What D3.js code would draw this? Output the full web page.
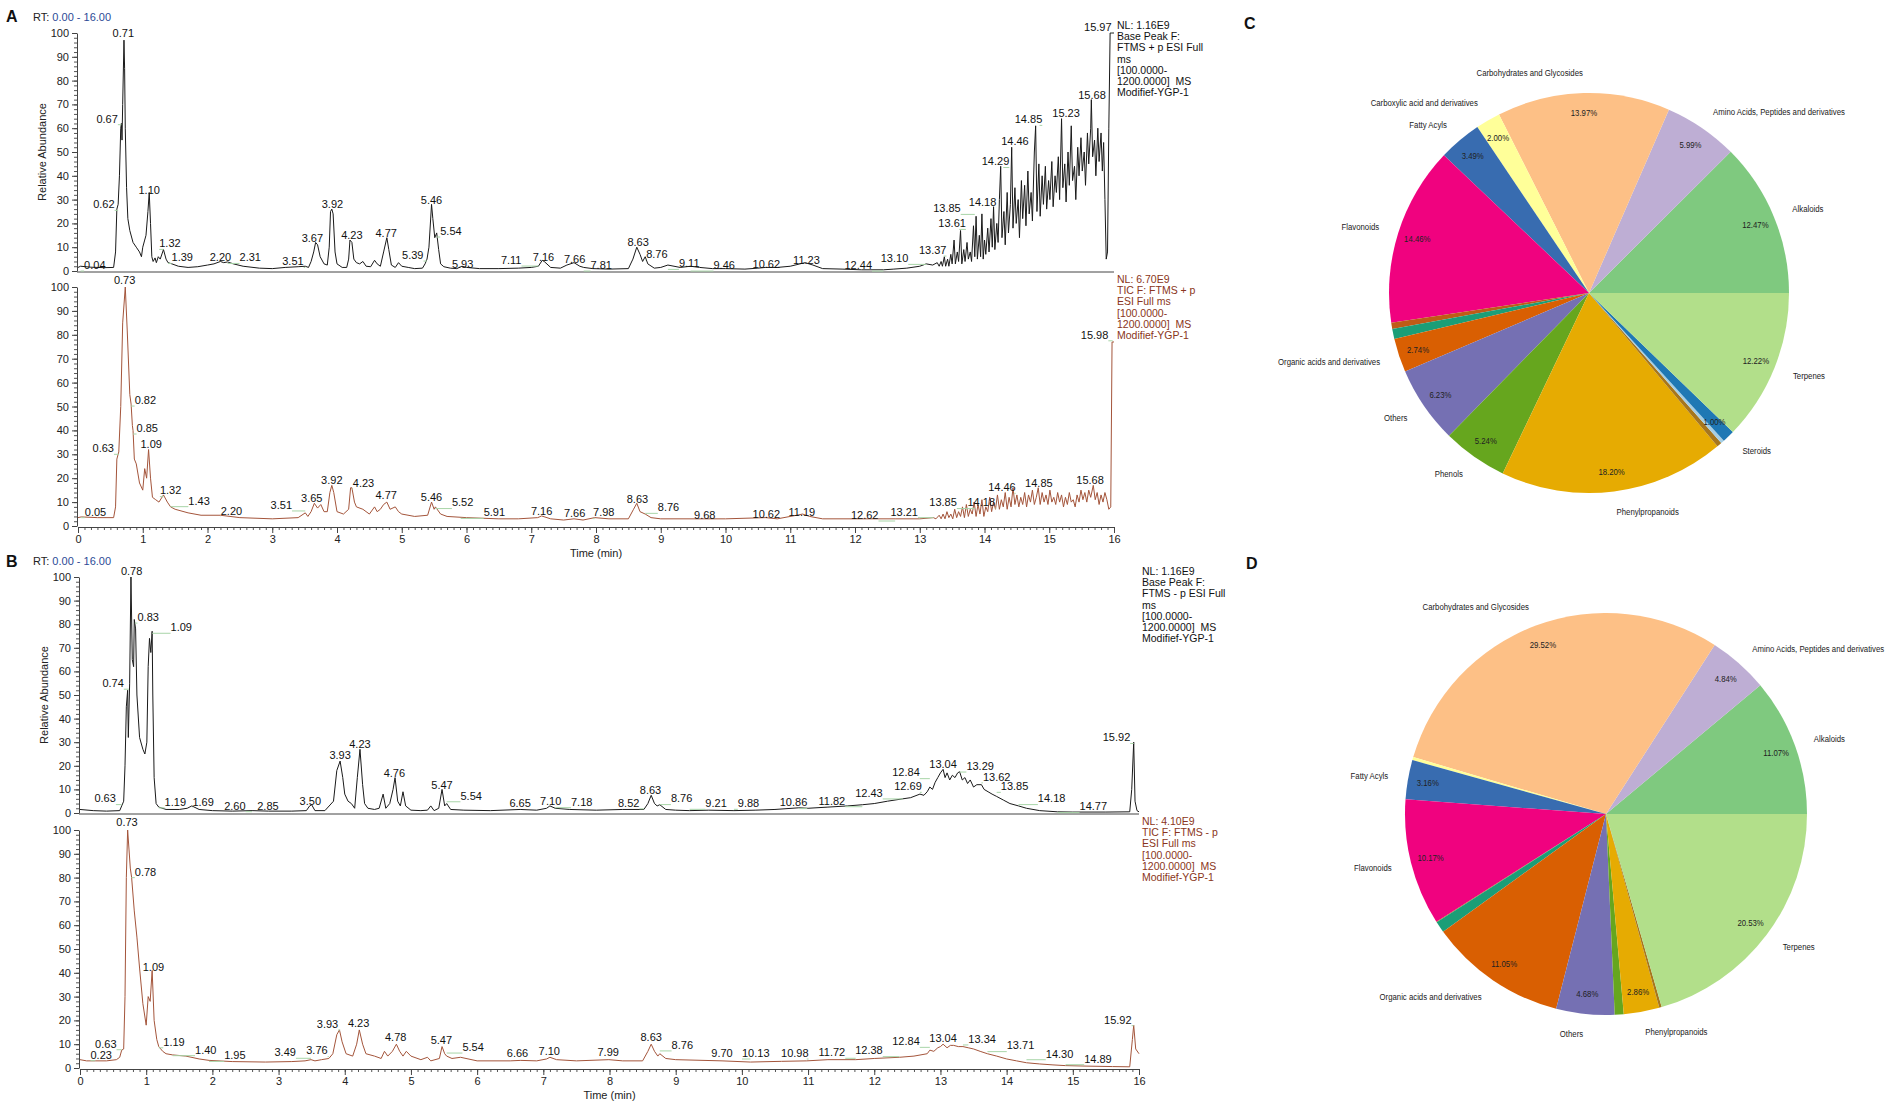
<!DOCTYPE html>
<html>
<head>
<meta charset="utf-8">
<script src="https://cdn.jsdelivr.net/npm/d3@7"></script>
<style>
  body { margin: 0; background: #fff; }
  text { font-family: "Liberation Sans", Arial, sans-serif; }
</style>
</head>
<body>
<svg id="fig" width="1902" height="1105"></svg>
<script>
// ---- data ----
const timeTicks = [0, 1, 2, 3, 4, 5, 6, 7, 8, 9, 10, 11, 12, 13, 14, 15, 16];
const abundanceTicks = [0, 10, 20, 30, 40, 50, 60, 70, 80, 90, 100];

// A, base peak (ESI+), [time, relative abundance]
const aTopTrace = [[0,1.5],[0.04,2],[0.2,1.6],[0.4,1.4],[0.55,1.5],[0.58,8],[0.6,26],[0.62,28],[0.64,40],[0.66,60],[0.67,62],[0.68,55],[0.69,70],[0.71,97],[0.72,85],[0.73,60],[0.75,35],[0.77,22],[0.8,17],[0.85,12],[0.9,10],[0.95,8],[0.98,6],[1.0,10],[1.03,13],[1.05,15],[1.08,25],[1.1,33],[1.12,20],[1.14,6],[1.16,4],[1.19,5.5],[1.21,3.5],[1.24,6],[1.27,5],[1.32,9],[1.36,5],[1.39,3.5],[1.45,3],[1.55,2],[1.7,1.5],[1.85,1.8],[2.0,2.5],[2.1,3],[2.2,4],[2.25,3.5],[2.31,3.8],[2.4,3],[2.55,2],[2.8,1.2],[3.0,1],[3.2,1.5],[3.4,1.8],[3.51,2],[3.56,1.5],[3.6,4],[3.64,8],[3.67,12],[3.7,11],[3.74,6],[3.8,3],[3.85,2.5],[3.88,10],[3.9,25],[3.92,26],[3.94,24],[3.97,8],[4.0,3],[4.08,1.5],[4.15,1.5],[4.18,5],[4.2,13],[4.23,12],[4.26,5],[4.3,3.5],[4.35,3],[4.4,4],[4.45,2],[4.52,1.8],[4.58,4.5],[4.62,3],[4.67,2],[4.72,8],[4.77,14],[4.8,9],[4.84,2.5],[4.9,1.5],[4.95,3.5],[5.0,2],[5.1,1.5],[5.2,1],[5.32,1.2],[5.36,3],[5.39,5],[5.42,10],[5.46,28],[5.48,22],[5.51,14],[5.54,16],[5.57,9],[5.6,3],[5.65,1.8],[5.75,1.2],[5.85,1],[5.93,2],[6.0,1.5],[6.2,1],[6.5,1],[6.8,1.2],[7.0,1.5],[7.11,2],[7.17,4.5],[7.2,4],[7.3,1.5],[7.45,1.2],[7.55,2.5],[7.66,3.5],[7.75,2],[7.81,1.5],[7.95,1],[8.2,0.8],[8.5,1],[8.57,5],[8.63,10],[8.68,7],[8.72,4],[8.76,6],[8.8,3],[8.9,1.2],[9.0,1.5],[9.11,2.5],[9.3,1.5],[9.46,2],[9.6,1.5],[9.8,1],[10.0,1],[10.3,0.8],[10.5,1.2],[10.62,1.5],[10.8,1.5],[11.0,2],[11.15,3],[11.23,3.5],[11.35,2.5],[11.5,1],[11.8,0.8],[12.1,0.5],[12.44,0.5],[12.6,0.8],[12.8,1.2],[13.0,2],[13.1,3],[13.2,2.5],[13.27,3.5],
  [13.30,2],[13.33,4],[13.35,2],[13.38,6],[13.40,2],[13.43,5],[13.45,2],[13.48,7],[13.50,3],[13.53,13],[13.55,3],[13.58,8],[13.60,4],[13.63,17],[13.65,3],[13.68,9],[13.70,4],[13.73,12],[13.75,5],[13.78,8],[13.80,4],[13.83,19],[13.85,6],[13.87,23],[13.89,5],[13.92,15],[13.94,6],[13.96,24],[13.98,5],[14.00,13],[14.02,7],[14.05,18],[14.07,8],[14.10,22],[14.12,10],[14.14,27],[14.16,9],[14.19,20],[14.21,12],[14.23,30],[14.25,44],[14.27,14],[14.30,25],[14.32,11],[14.35,33],[14.37,16],[14.40,28],[14.42,52],[14.44,18],[14.47,35],[14.49,20],[14.52,30],[14.54,14],[14.57,38],[14.59,22],[14.62,36],[14.64,19],[14.67,42],[14.69,24],[14.72,33],[14.74,21],[14.77,50],[14.79,61],[14.81,25],[14.84,45],[14.86,23],[14.89,40],[14.91,28],[14.94,44],[14.96,26],[14.99,38],[15.01,30],[15.04,46],[15.06,27],[15.09,40],[15.11,33],[15.14,48],[15.16,30],[15.19,64],[15.21,35],[15.24,45],[15.26,29],[15.29,50],[15.31,36],[15.34,61],[15.36,38],[15.39,44],[15.41,30],[15.44,52],[15.46,40],[15.49,56],[15.51,42],[15.54,50],[15.56,36],[15.59,58],[15.61,45],[15.64,60],[15.65,72],[15.67,48],[15.70,55],[15.72,40],[15.75,60],[15.77,46],[15.80,58],[15.82,42],[15.84,54],[15.86,30],[15.88,5],[15.90,8],[15.92,60],[15.94,100],[15.97,100],[16.0,100]];
// peak labels: [retention time, label position (min), label height]
const aTopLabels = [[0.04,0.26,2.5],[0.62,0.40,28],[0.67,0.45,64],[0.71,0.70,100],[1.10,1.10,34],[1.32,1.42,11.6],[1.39,1.61,5.7],[2.20,2.20,5.7],[2.31,2.66,5.7],[3.51,3.32,4],[3.67,3.62,13.7],[3.92,3.93,28],[4.23,4.23,15],[4.77,4.76,15.8],[5.39,5.17,6.7],[5.46,5.46,29.6],[5.54,5.76,16.8],[5.93,5.94,3],[7.11,6.69,4.6],[7.16,7.19,6],[7.66,7.67,4.9],[7.81,8.08,2.5],[8.63,8.65,12.3],[8.76,8.94,7.2],[9.11,9.44,3.2],[9.46,9.98,2.5],[10.62,10.63,2.8],[11.23,11.25,4.6],[12.44,12.05,2.5],[13.10,12.61,5.3],[13.37,13.2,8.8],[13.61,13.5,20],[13.85,13.42,26.3],[14.18,13.97,29.1],[14.29,14.17,46],[14.46,14.47,54.6],[14.85,14.68,63.7],[15.23,15.26,66.5],[15.68,15.66,74],[15.97,15.75,102.6]];
const aTopNote = ["NL: 1.16E9", "Base Peak F:", "FTMS + p ESI Full", "ms", "[100.0000-", "1200.0000]  MS", "Modifief-YGP-1"];

// A, TIC (ESI+)
const aBotTrace = [[0,3.5],[0.05,3.8],[0.3,3.5],[0.55,3.5],[0.58,8],[0.6,28],[0.63,31],[0.66,50],[0.69,85],[0.73,100],[0.76,82],[0.8,55],[0.82,51],[0.84,42],[0.85,40],[0.87,28],[0.9,26],[0.95,18],[1.0,15],[1.03,24],[1.06,20],[1.09,32],[1.12,20],[1.15,12],[1.2,11],[1.25,10],[1.32,13],[1.38,10],[1.43,8],[1.5,7],[1.7,5.5],[1.9,4.5],[2.2,4.5],[2.5,3.5],[3.0,3],[3.4,3.5],[3.51,5.5],[3.55,4],[3.6,6],[3.65,9.5],[3.7,7.5],[3.75,9],[3.8,6],[3.85,6],[3.89,14],[3.92,17],[3.95,14],[4.0,6],[4.1,5],[4.18,7],[4.21,16],[4.23,16],[4.27,10],[4.3,8],[4.4,7],[4.5,5],[4.58,8],[4.62,6],[4.67,7],[4.72,9],[4.77,10],[4.82,7],[4.9,8],[4.95,6],[5.0,5],[5.2,4],[5.4,4.5],[5.46,10],[5.5,7],[5.52,8],[5.6,5],[5.7,4],[6.0,3.5],[6.5,3],[6.8,3],[7.1,3.5],[7.16,4.2],[7.3,3],[7.5,2.5],[7.66,3],[7.8,2.5],[7.98,3.5],[8.2,3],[8.5,3],[8.58,7],[8.63,9.5],[8.68,6],[8.76,5],[8.85,3.5],[9.0,3],[9.68,3],[10.0,3],[10.62,3.5],[10.8,3],[11.1,4.5],[11.19,5],[11.3,4],[11.5,3],[12.0,3],[12.62,3],[13.0,3],[13.21,3.5],
  [13.25,3],[13.3,4.5],[13.33,3],[13.36,5],[13.39,3],[13.42,6],[13.45,3.5],[13.48,5],[13.51,3],[13.54,7],[13.57,3.5],[13.6,6],[13.63,4],[13.66,8],[13.69,3.5],[13.72,9],[13.75,4],[13.78,7],[13.81,5],[13.84,10],[13.87,4],[13.9,9],[13.93,5],[13.96,11],[13.99,4],[14.02,8],[14.05,6],[14.08,12],[14.11,6],[14.14,10],[14.17,7],[14.2,13],[14.23,7],[14.26,11],[14.29,8],[14.32,14],[14.35,7],[14.38,12],[14.41,8],[14.44,16],[14.47,9],[14.5,13],[14.53,8],[14.56,12],[14.59,9],[14.62,14],[14.65,8],[14.68,13],[14.71,10],[14.74,15],[14.77,9],[14.8,12],[14.83,16],[14.86,9],[14.89,14],[14.92,10],[14.95,13],[14.98,9],[15.01,15],[15.04,10],[15.07,12],[15.1,9],[15.13,14],[15.16,10],[15.19,13],[15.22,8],[15.25,12],[15.28,9],[15.31,14],[15.34,10],[15.37,11],[15.4,8],[15.43,13],[15.46,10],[15.49,15],[15.52,11],[15.55,14],[15.58,10],[15.61,15],[15.64,12],[15.68,17],[15.71,11],[15.74,14],[15.77,9],[15.8,13],[15.83,10],[15.86,14],[15.89,11],[15.92,7],[15.95,8],[15.97,77],[16.0,77]];
const aBotLabels = [[0.05,0.27,6],[0.63,0.39,32.5],[0.73,0.72,103],[0.82,1.04,52.7],[0.85,1.07,41],[1.09,1.13,34.3],[1.32,1.43,14.8],[1.43,1.87,10.6],[2.20,2.37,6.4],[3.51,3.14,8.8],[3.65,3.61,11.6],[3.92,3.92,19],[4.23,4.41,18],[4.77,4.76,12.7],[5.46,5.46,12],[5.52,5.94,9.8],[5.91,6.43,5.7],[7.16,7.16,6.4],[7.66,7.67,5.5],[7.98,8.12,5.6],[8.63,8.64,11.2],[8.76,9.12,7.8],[9.68,9.68,4.6],[10.62,10.63,4.9],[11.19,11.18,6],[12.62,12.15,4.6],[13.21,12.76,6],[13.85,13.36,9.8],[14.18,13.95,10],[14.46,14.27,16.2],[14.85,14.84,18],[15.68,15.63,19],[15.98,15.70,80]];
const aBotNote = ["NL: 6.70E9", "TIC F: FTMS + p", "ESI Full ms", "[100.0000-", "1200.0000]  MS", "Modifief-YGP-1"];

// B, base peak (ESI-)
const bTopTrace = [[0,1.5],[0.2,1],[0.4,0.8],[0.6,1],[0.63,3],[0.66,5],[0.68,20],[0.7,45],[0.72,52],[0.73,32],[0.75,55],[0.77,100],[0.79,65],[0.81,62],[0.82,82],[0.84,78],[0.86,50],[0.9,32],[0.95,27],[0.98,25],[1.01,30],[1.03,62],[1.05,74],[1.07,68],[1.09,77],[1.1,50],[1.12,15],[1.15,4],[1.19,2.5],[1.3,1.5],[1.5,1.5],[1.62,2],[1.69,3],[1.8,1.5],[2.0,1],[2.3,0.8],[2.6,1],[2.85,0.8],[3.2,0.8],[3.42,1],[3.47,3],[3.5,3.5],[3.55,1],[3.7,1],[3.83,5],[3.88,18],[3.93,22],[3.97,15],[4.0,8],[4.05,5],[4.1,4],[4.15,2],[4.19,15],[4.23,27],[4.27,12],[4.3,4],[4.35,2],[4.45,1.5],[4.52,2],[4.58,8],[4.62,2],[4.68,4],[4.73,10],[4.76,15],[4.8,5],[4.84,3],[4.88,9],[4.92,3],[5.0,1.2],[5.15,1],[5.25,1.2],[5.3,3],[5.35,1],[5.42,2],[5.47,10],[5.51,3],[5.54,4],[5.6,1.5],[5.8,1.2],[6.2,1],[6.65,1.5],[6.9,1.2],[7.05,2],[7.1,3],[7.18,2],[7.4,1.5],[7.8,1.2],[8.2,1.5],[8.52,1.5],[8.58,4],[8.63,7.5],[8.68,4],[8.72,3],[8.76,3.5],[8.85,1.5],[9.0,1.2],[9.21,1],[9.5,1.2],[9.88,1],[10.2,1.2],[10.5,1.5],[10.86,2.2],[11.0,2],[11.3,2.5],[11.6,3],[11.82,3.5],[12.0,4],[12.2,5],[12.43,6],[12.55,6.5],[12.69,8],[12.75,7.5],[12.8,9],[12.84,11],[12.88,10],[12.92,13],[12.96,15],[13.0,17],[13.04,18.5],[13.07,15],[13.1,17],[13.14,14],[13.18,16],[13.22,15],[13.26,17],[13.29,17.5],[13.33,14],[13.37,15],[13.41,12.5],[13.45,14],[13.5,11],[13.55,12],[13.62,12],[13.66,10],[13.72,9],[13.78,8],[13.85,7],[13.95,5.5],[14.05,4],[14.18,3],[14.3,2],[14.5,1],[14.77,0.5],[15.0,0.4],[15.5,0.4],[15.86,0.5],[15.89,10],[15.92,30],[15.94,5],[15.97,1],[16.0,0.5]];
const bTopLabels = [[0.78,0.78,102.5],[0.83,1.03,83],[1.09,1.53,78.7],[0.74,0.50,55],[0.63,0.38,6.1],[1.19,1.44,4.7],[1.69,1.86,4.7],[2.60,2.34,3.1],[2.85,2.84,3.1],[3.50,3.48,5.2],[3.93,3.93,24.4],[4.23,4.23,29.3],[4.76,4.75,16.8],[5.47,5.47,11.9],[5.54,5.91,7.3],[6.65,6.65,4],[7.10,7.11,5.2],[7.18,7.58,4.8],[8.52,8.29,4.3],[8.63,8.62,9.6],[8.76,9.09,6.1],[9.21,9.61,4.1],[9.88,10.1,4.1],[10.86,10.78,4.4],[11.82,11.36,5.2],[12.43,11.92,8.5],[12.69,12.51,11.3],[12.84,12.48,17.1],[13.04,13.04,20.6],[13.29,13.6,19.9],[13.62,13.85,15.3],[13.85,14.12,11.3],[14.18,14.68,6.1],[14.77,15.31,2.7],[15.92,15.66,32]];
const bTopNote = ["NL: 1.16E9", "Base Peak F:", "FTMS - p ESI Full", "ms", "[100.0000-", "1200.0000]  MS", "Modifief-YGP-1"];

// B, TIC (ESI-)
const bBotTrace = [[0,3.5],[0.1,3],[0.23,3],[0.4,3],[0.55,3.5],[0.6,4.5],[0.63,7.5],[0.66,8],[0.68,30],[0.7,80],[0.72,100],[0.74,92],[0.76,84],[0.78,80],[0.82,66],[0.86,55],[0.9,42],[0.95,27],[1.0,18],[1.03,30],[1.06,28],[1.09,41],[1.12,20],[1.16,12],[1.19,9],[1.25,7],[1.3,6],[1.4,5.5],[1.6,5],[1.8,3.8],[1.95,3.2],[2.3,2.7],[2.8,2.5],[3.2,2.7],[3.4,3],[3.49,3.5],[3.55,3],[3.65,3.5],[3.76,4],[3.82,6],[3.88,14],[3.92,16],[3.96,11],[4.02,6],[4.12,5],[4.18,10],[4.22,16],[4.27,10],[4.32,6],[4.45,5],[4.55,4],[4.6,7],[4.65,5],[4.72,7],[4.78,10],[4.83,7],[4.88,5],[4.93,7],[5.0,5],[5.15,3.5],[5.25,4.5],[5.3,3],[5.43,4],[5.47,9],[5.51,6],[5.54,5],[5.62,4],[5.75,4.5],[6.0,3],[6.5,3],[6.66,3.2],[6.9,3],[7.05,3.8],[7.1,4.5],[7.2,3.5],[7.5,3],[7.99,3.5],[8.2,3],[8.5,3],[8.58,7],[8.63,10],[8.68,7],[8.73,5],[8.76,6],[8.85,4],[9.0,3.5],[9.7,3],[10.13,2.5],[10.6,2.8],[10.98,3],[11.3,3.5],[11.72,3.5],[12.0,4],[12.38,4.5],[12.6,5],[12.8,6],[12.84,7.5],[12.9,7],[12.96,8.5],[13.0,9],[13.04,10],[13.1,8.5],[13.15,9.5],[13.2,9.5],[13.27,9],[13.34,9],[13.42,8.5],[13.5,8],[13.6,7],[13.71,6],[13.85,5],[14.0,3.8],[14.15,3],[14.3,2.2],[14.5,1.7],[14.7,1.3],[14.89,1],[15.2,0.8],[15.6,0.6],[15.86,0.5],[15.9,12],[15.92,18],[15.95,8],[16.0,6]];
const bBotLabels = [[0.73,0.71,103.5],[0.78,0.99,82.5],[1.09,1.11,42.4],[0.63,0.39,10.2],[0.23,0.32,5.6],[1.19,1.42,11],[1.40,1.90,7.7],[1.95,2.34,5.3],[3.49,3.10,6.6],[3.76,3.58,7.3],[3.93,3.74,18.5],[4.23,4.21,18.9],[4.78,4.77,13.1],[5.47,5.46,11.5],[5.54,5.94,8.8],[6.66,6.61,6.3],[7.10,7.09,6.9],[7.99,7.98,6.6],[8.63,8.63,13.1],[8.76,9.10,9.7],[9.70,9.70,6.3],[10.13,10.21,6.3],[10.98,10.80,6.3],[11.72,11.36,6.6],[12.38,11.92,7.3],[12.84,12.48,11.2],[13.04,13.04,12.6],[13.34,13.63,12.2],[13.71,14.21,9.4],[14.30,14.8,6],[14.89,15.38,3.9],[15.92,15.68,20.3]];
const bBotNote = ["NL: 4.10E9", "TIC F: FTMS - p", "ESI Full ms", "[100.0000-", "1200.0000]  MS", "Modifief-YGP-1"];

// pies: classes in plotting order (counter-clockwise from 3 o'clock)
const pieClasses = ["Alkaloids", "Amino Acids, Peptides and derivatives", "Carbohydrates and Glycosides",
  "Carboxylic acid and derivatives", "Fatty Acyls", "Flavonoids", "minor 1", "minor 2",
  "Organic acids and derivatives", "Others", "Phenols", "Phenylpropanoids", "minor 3", "minor 4",
  "Steroids", "Terpenes"];
const pieCValues = [12.47, 5.99, 13.97, 2.00, 3.49, 14.46, 0.50, 0.81, 2.74, 6.23, 5.24, 18.20, 0.40, 0.28, 1.00, 12.22];
const pieDValues = [11.07, 4.84, 29.52, 0.25, 3.16, 10.17, 0.05, 0.90, 11.05, 4.68, 0.72, 2.86, 0.20, 0, 0, 20.53];
const pieColors = ["#7fc97f", "#beaed4", "#fdc086", "#ffff99", "#386cb0", "#f0027f", "#bf5b17", "#1b9e77",
  "#d95f02", "#7570b3", "#66a61e", "#e6ab02", "#a6761d", "#a6cee3", "#1f78b4", "#b2df8a"];

// ---- drawing ----
const svg = d3.select("#fig");
const black = "#1a1a1a";
const ticColor = "#a4553b";
const ticText = "#8a3520";
const leaderColor = "#a8d5a8";

function chromPanel(p) {
  const x = d3.scaleLinear().domain([0, 16]).range([p.left, p.right]);
  const y = d3.scaleLinear().domain([0, 100]).range([p.base, p.top]);
  const g = svg.append("g");

  // y axis with minor ticks
  g.append("g").attr("transform", `translate(${p.left - 1},0)`)
    .call(d3.axisLeft(y).tickValues(d3.range(0, 101, 2)).tickSize(3).tickFormat(""))
    .call(a => a.select(".domain").remove())
    .selectAll("line").attr("stroke", "#555");
  const ya = g.append("g").attr("transform", `translate(${p.left - 1},0)`)
    .call(d3.axisLeft(y).tickValues(abundanceTicks).tickSize(5).tickSizeOuter(0));
  ya.select(".domain").attr("stroke", "#444");
  ya.selectAll("line").attr("stroke", "#444");
  ya.selectAll("text").attr("font-size", 11).attr("fill", "#222")
    .attr("font-family", "'Liberation Sans', Arial, sans-serif");

  // x axis
  if (p.xLabels) {
    g.append("g").attr("transform", `translate(0,${p.base + 1})`)
      .call(d3.axisBottom(x).tickValues(d3.range(0, 16.01, 0.1)).tickSize(3).tickFormat(""))
      .call(a => a.select(".domain").remove())
      .selectAll("line").attr("stroke", "#555");
    const xa = g.append("g").attr("transform", `translate(0,${p.base + 1})`)
      .call(d3.axisBottom(x).tickValues(timeTicks).tickSize(6).tickSizeOuter(0));
    xa.select(".domain").attr("stroke", "#444");
    xa.selectAll("line").attr("stroke", "#444");
    xa.selectAll("text").attr("font-size", 11).attr("fill", "#222").attr("dy", "0.6em")
      .attr("font-family", "'Liberation Sans', Arial, sans-serif");
    g.append("text").attr("x", x(8)).attr("y", p.base + 31).attr("text-anchor", "middle")
      .attr("font-size", 11).attr("fill", "#222").text("Time (min)");
  } else {
    g.append("line").attr("x1", p.left - 1).attr("x2", p.right).attr("y1", p.base + 1).attr("y2", p.base + 1)
      .attr("stroke", "#444");
  }

  if (p.yTitle) {
    g.append("text")
      .attr("transform", `translate(${p.left - 32},${(p.top + p.base) / 2}) rotate(-90)`)
      .attr("text-anchor", "middle").attr("font-size", 11).attr("fill", "#222")
      .text("Relative Abundance");
  }

  // trace
  g.append("path").datum(p.trace)
    .attr("d", d3.line().x(d => x(d[0])).y(d => y(d[1])))
    .attr("fill", "none").attr("stroke", p.color).attr("stroke-width", 1)
    .attr("stroke-linejoin", "round");

  // peak labels, leader lines underneath
  const leaders = g.append("g");
  const texts = g.append("g");
  p.labels.forEach(([rt, lt, ly]) => {
    const t = texts.append("text").attr("x", x(lt)).attr("y", y(ly)).attr("dy", "0.35em")
      .attr("text-anchor", "middle").attr("font-size", 11).attr("fill", "#111")
      .text(rt.toFixed(2));
    if (Math.abs(lt - rt) >= 0.08) {
      const w = t.node().getComputedTextLength() / 2;
      const from = lt < rt ? x(lt) + w : x(lt) - w;
      leaders.append("line").attr("x1", from).attr("x2", x(rt))
        .attr("y1", y(ly) + 6).attr("y2", y(ly) + 6)
        .attr("stroke", leaderColor).attr("stroke-width", 1);
    }
  });

  // NL note block
  const note = g.append("text").attr("x", p.right + 3).attr("y", p.noteY)
    .attr("font-size", 10.5).attr("fill", p.noteColor);
  p.note.forEach((s, i) => note.append("tspan").attr("x", p.right + 3).attr("dy", i ? 11.2 : 0)
    .attr("xml:space", "preserve").text(s));
}

chromPanel({ left: 78, right: 1114, top: 33, base: 271, trace: aTopTrace, labels: aTopLabels,
  color: black, xLabels: false, yTitle: true, note: aTopNote, noteY: 29, noteColor: "#111" });
chromPanel({ left: 78, right: 1114, top: 287, base: 526, trace: aBotTrace, labels: aBotLabels,
  color: ticColor, xLabels: true, yTitle: false, note: aBotNote, noteY: 283, noteColor: ticText });
chromPanel({ left: 80, right: 1139, top: 577, base: 813, trace: bTopTrace, labels: bTopLabels,
  color: black, xLabels: false, yTitle: true, note: bTopNote, noteY: 575, noteColor: "#111" });
chromPanel({ left: 80, right: 1139, top: 830, base: 1068, trace: bBotTrace, labels: bBotLabels,
  color: ticColor, xLabels: true, yTitle: false, note: bBotNote, noteY: 825, noteColor: ticText });

// RT headers and panel letters
function header(letter, lx, ly) {
  svg.append("text").attr("x", lx).attr("y", ly)
    .attr("font-family", "'Liberation Serif', 'DejaVu Serif', serif").attr("font-weight", "bold")
    .attr("font-size", 16).attr("fill", "#111").text(letter);
}
function rtText(x0, y0) {
  const t = svg.append("text").attr("x", x0).attr("y", y0).attr("font-size", 11);
  t.append("tspan").attr("fill", "#222").text("RT: ");
  t.append("tspan").attr("fill", "#2c4a96").text("0.00 - 16.00");
}
header("A", 6, 22); rtText(33, 21);
header("B", 6, 567); rtText(33, 565);
header("C", 1244, 29);
header("D", 1246, 569);

// pies
function pieChart(values, cx, cy, r) {
  const data = pieClasses.map((name, i) => ({ name, value: values[i], color: pieColors[i] }));
  const arcs = d3.pie().sort(null).value(d => d.value)
    .startAngle(Math.PI / 2).endAngle(Math.PI / 2 - 2 * Math.PI)(data);
  const g = svg.append("g").attr("transform", `translate(${cx},${cy})`);
  const arc = d3.arc().innerRadius(0).outerRadius(r);
  g.selectAll("path.slice").data(arcs.filter(a => a.data.value > 0)).join("path")
    .attr("class", "slice").attr("d", arc).attr("fill", d => d.data.color);

  const labelArc = d3.arc().innerRadius(r * 1.1).outerRadius(r * 1.1);
  const pctArc = d3.arc().innerRadius(r * 0.9).outerRadius(r * 0.9);
  const shown = arcs.filter(a => a.data.value >= 1);
  shown.forEach(a => {
    const [lx, ly] = labelArc.centroid(a);
    g.append("g").attr("transform", `translate(${lx},${ly}) scale(0.82,1)`)
      .append("text").attr("text-anchor", lx > 0 ? "start" : "end").attr("dy", "0.35em")
      .attr("font-family", "'Noto Sans', 'Open Sans', sans-serif").attr("font-size", 9.5)
      .attr("fill", "#1a1a1a").text(a.data.name);
    const [px, py] = pctArc.centroid(a);
    g.append("g").attr("transform", `translate(${px},${py}) scale(0.82,1)`)
      .append("text").attr("text-anchor", "middle").attr("dy", "0.35em")
      .attr("font-family", "'Noto Sans', 'Open Sans', sans-serif").attr("font-size", 9.5)
      .attr("fill", "#222").text(a.data.value.toFixed(2) + "%");
  });
}
pieChart(pieCValues, 1589, 293, 200);
pieChart(pieDValues, 1606, 814, 201);
</script>
</body>
</html>
